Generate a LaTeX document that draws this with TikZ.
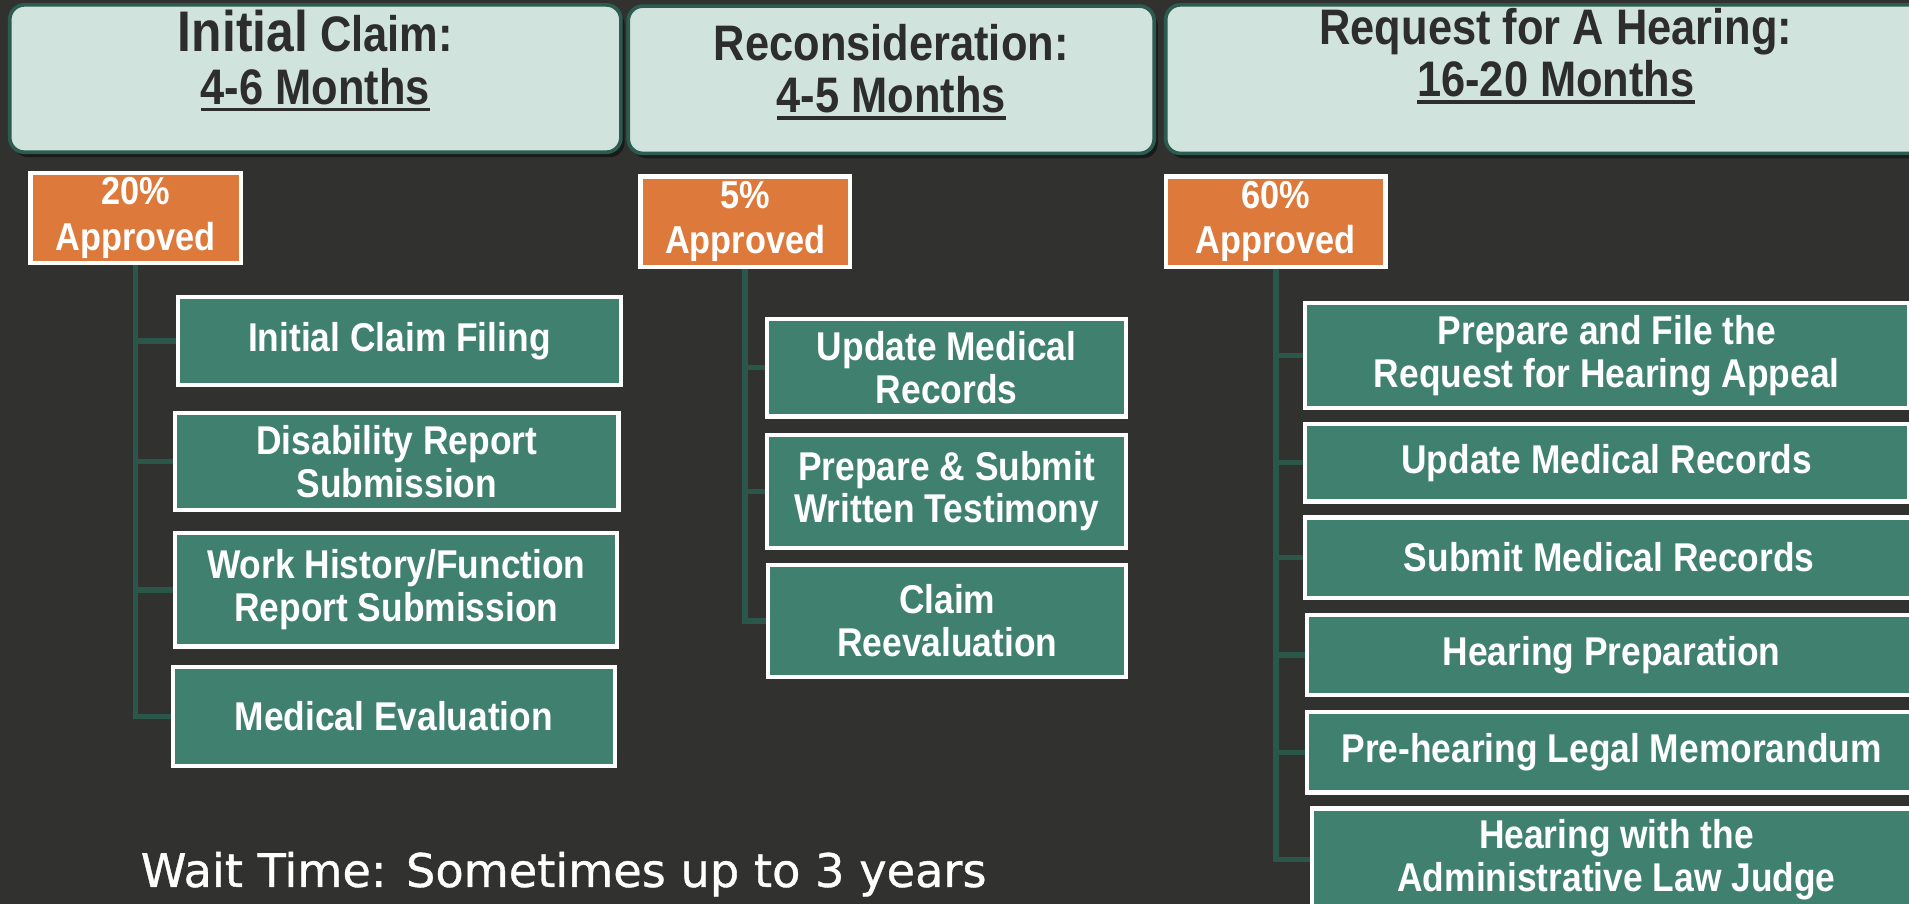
\documentclass[tikz,border=0pt]{standalone}
\usepackage{fontspec}
\setmainfont{Liberation Sans}[FakeStretch=0.88]
\newfontfamily\headfont{Liberation Sans}[FakeStretch=0.87]
\newfontfamily\waitfont{DejaVu Sans}[FakeBold=0.8]
\usetikzlibrary{shadows}
\definecolor{bg}{HTML}{313130}
\definecolor{mint}{HTML}{D1E3DD}
\definecolor{hdredge}{HTML}{2C5C4F}
\definecolor{ink}{HTML}{2D2D2D}
\definecolor{orng}{HTML}{DD7A3B}
\definecolor{taskgreen}{HTML}{3F806F}
\definecolor{treeline}{HTML}{2A574A}
\newcommand\monthsline[1]{\setbox0=\hbox{#1}\rlap{\rule[-6pt]{\wd0}{3pt}}\box0}
\begin{document}
\begin{tikzpicture}[x=1pt, y=-1pt,
    hdr/.style={draw=hdredge, line width=3pt, fill=mint, rounded corners=12pt,
        drop shadow={shadow xshift=3pt, shadow yshift=-4pt, opacity=0.45, fill=black}},
    title/.style={text=ink, align=center, font=\headfont\bfseries\fontsize{41}{43}\selectfont},
    pct/.style={draw=white, line width=3.5pt, fill=orng, text=white, align=center, inner sep=0pt,
        minimum height=74pt, font=\bfseries\fontsize{32}{37}\selectfont},
    task/.style={draw=white, line width=3.5pt, fill=taskgreen, text=white, align=center, inner sep=0pt,
        font=\bfseries\fontsize{33}{35}\selectfont},
    branch/.style={draw=treeline, line width=4.5pt}]
    \useasboundingbox[fill=bg] (0,0) rectangle (1568,742.5);

    \node[hdr, minimum width=502pt, minimum height=121pt] (h1) at (259,64.5) {};
    \node[hdr, minimum width=432pt, minimum height=121pt] (h2) at (732,65.5) {};
    \node[hdr, minimum width=640pt, minimum height=122pt, anchor=west] (h3) at (956,65) {};
    \node[title] (t1) at (259,50) {{\fontsize{47}{43}\selectfont Initial} Claim:\\\monthsline{4-6 Months}};
    \node[title] (t2) at (732,59) {Reconsideration:\\\monthsline{4-5 Months}};
    \node[title] (t3) at (1278,46) {Request for A Hearing:\\\monthsline{16-20 Months}};

    \node[pct, minimum width=173pt] (p1) at (111.5,179) {20\%\\Approved};
    \node[pct, minimum width=172pt] (p2) at (612,182) {5\%\\Approved};
    \node[pct, minimum width=180pt] (p3) at (1048,182) {60\%\\Approved};

    \node[task, minimum width=364pt, minimum height=72pt] (a1) at (328,280) {Initial Claim Filing};
    \node[task, minimum width=364pt, minimum height=80pt] (a2) at (326,379) {Disability Report\\Submission};
    \node[task, minimum width=363pt, minimum height=93pt] (a3) at (325.5,484.5) {Work History/Function\\Report Submission};
    \node[task, minimum width=363pt, minimum height=81pt] (a4) at (323.5,588.5) {Medical Evaluation};

    \node[task, minimum width=295pt, minimum height=80pt] (b1) at (777.5,302) {Update Medical\\Records};
    \node[task, minimum width=295pt, minimum height=93pt] (b2) at (777.5,403.5) {Prepare \& Submit\\Written Testimony};
    \node[task, minimum width=294pt, minimum height=92pt] (b3) at (778,510) {Claim\\Reevaluation};

    \node[task, minimum width=496pt, minimum height=86pt, anchor=west] (c1) at (1070,292) {Prepare and File the\\Request for Hearing Appeal};
    \node[task, minimum width=496pt, minimum height=64pt, anchor=west] (c2) at (1070,380) {Update Medical Records};
    \node[task, minimum width=500pt, minimum height=66pt, anchor=west] (c3) at (1070,458) {Submit Medical Records};
    \node[task, minimum width=500pt, minimum height=66pt, anchor=west] (c4) at (1072,538) {Hearing Preparation};
    \node[task, minimum width=500pt, minimum height=66pt, anchor=west] (c5) at (1072,618) {Pre-hearing Legal Memorandum};
    \node[task, minimum width=500pt, minimum height=84pt, anchor=west] (c6) at (1076,706) {Hearing with the\\Administrative Law Judge};

    \foreach \t in {a1,a2,a3,a4} \draw[branch] (p1.south) |- (\t.west);
    \foreach \t in {b1,b2,b3} \draw[branch] (p2.south) |- (\t.west);
    \foreach \t in {c1,c2,c3,c4,c5,c6} \draw[branch] (p3.south) |- (\t.west);

    \node[text=white, font=\waitfont\fontsize{38}{40}\selectfont] (wait) at (463,718) {Wait Time: Sometimes up to 3 years};
\end{tikzpicture}
\end{document}
